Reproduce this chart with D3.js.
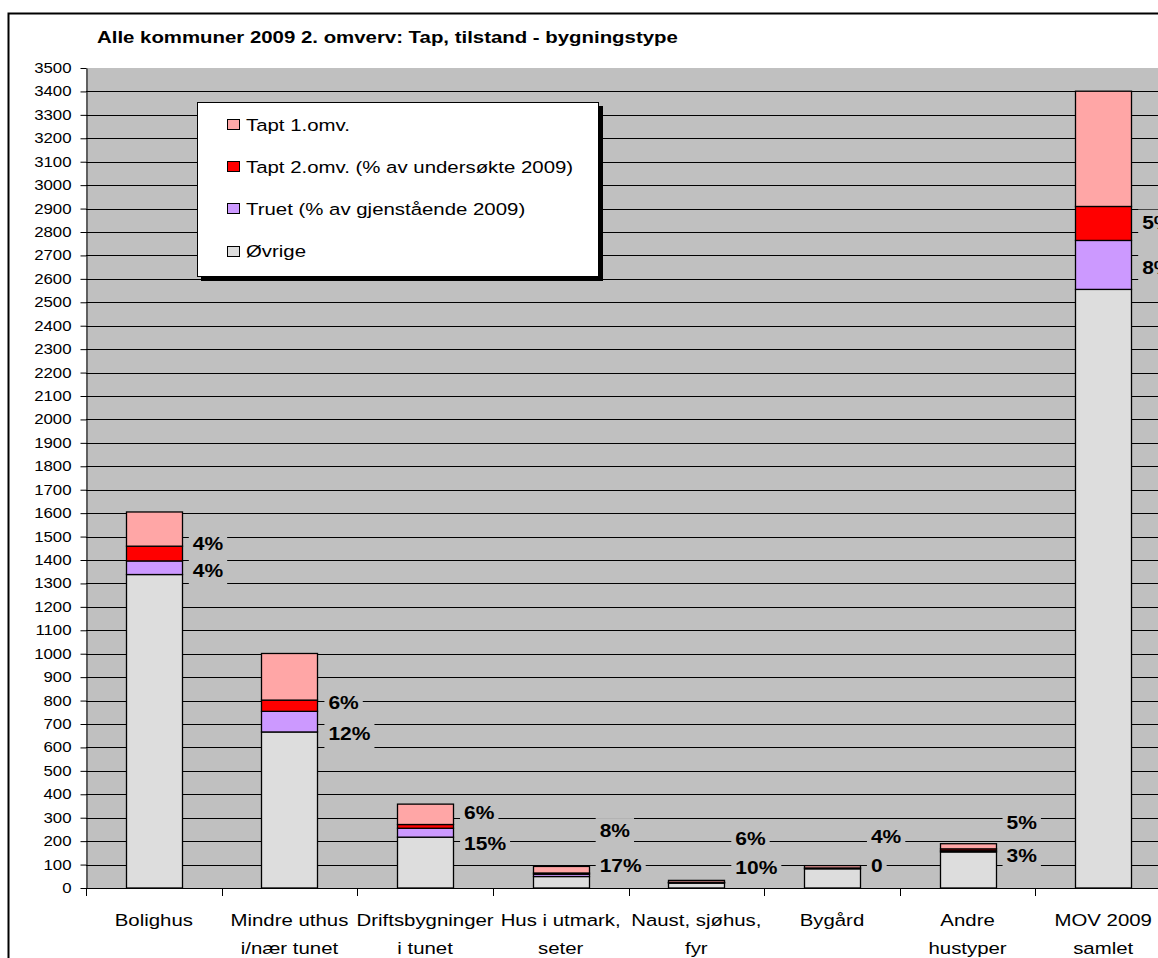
<!DOCTYPE html>
<html>
<head>
<meta charset="utf-8">
<script src="https://cdn.jsdelivr.net/npm/d3@7"></script>
<style>
  body { margin: 0; background: #fff; }
  svg { display: block; font-family: "Liberation Sans", Arial, sans-serif; }
</style>
</head>
<body>
<div class="chart"></div>
<script>
// chart values
var categories = ["Bolighus", "Mindre uthus i/nær tunet", "Driftsbygninger i tunet", "Hus i utmark, seter",
                  "Naust, sjøhus, fyr", "Bygård", "Andre hustyper", "MOV 2009 samlet"];
var categoryLines = [["Bolighus"], ["Mindre uthus", "i/nær tunet"], ["Driftsbygninger", "i tunet"],
                     ["Hus i utmark,", "seter"], ["Naust, sjøhus,", "fyr"], ["Bygård"],
                     ["Andre", "hustyper"], ["MOV 2009", "samlet"]];
var ovrige = [1338, 666, 217, 49, 21, 82, 154, 2555];
var truet  = [58, 88, 38, 10, 2, 0, 5, 209];
var tapt2  = [63, 48, 16, 5, 1.5, 3.5, 8, 145];
var tapt1  = [146, 199, 87, 28, 8, 10, 22, 492];

// percentage labels and the value they sit at
var pctTapt2 = ["4%", "6%", "6%", "8%", "6%", "4%", "5%", "5%"];
var pctTruet = ["4%", "12%", "15%", "17%", "10%", "0", "3%", "8%"];
var pctTapt2At = [1470, 790, 320, 243, 209, 218, 276, 2840];
var pctTruetAt = [1354, 659, 188, 94, 85, 94, 139, 2648];

var yTicks = d3.range(0, 3501, 100);

var seriesKeys = ["ovrige", "truet", "tapt2", "tapt1"];
var seriesNames = {
    tapt1: "Tapt 1.omv.",
    tapt2: "Tapt 2.omv. (% av undersøkte 2009)",
    truet: "Truet (% av gjenstående 2009)",
    ovrige: "Øvrige"
};
var colors = { ovrige: "#dddddd", truet: "#cc99ff", tapt2: "#ff0000", tapt1: "#ffa6a6" };

var SX = 1.2; // the reference text is drawn a bit wide

var svgWidth = 1158, svgHeight = 958;
var plot = { left: 86, top: 68, right: 1171, bottom: 888 };

var rows = categories.map(function(c, i) {
    return { cat: c, ovrige: ovrige[i], truet: truet[i], tapt2: tapt2[i], tapt1: tapt1[i] };
});

var svg = d3.select(".chart").append("svg")
    .attr("width", svgWidth)
    .attr("height", svgHeight);

function stretch(sel) {
    sel.each(function() {
        var t = d3.select(this);
        var x = +t.attr("x") || 0, y = +t.attr("y") || 0;
        t.attr("x", 0).attr("y", 0)
         .attr("transform", "translate(" + x + "," + y + ") scale(" + SX + ",1)");
    });
}

// outer chart border
svg.append("rect")
    .attr("x", 8.5).attr("y", 13.5)
    .attr("width", 1300).attr("height", 1100)
    .attr("fill", "#fff").attr("stroke", "#000").attr("stroke-width", 2);

var x = d3.scaleBand()
    .domain(categories)
    .range([plot.left, plot.right])
    .paddingInner(0.587)
    .paddingOuter(0.2935);

var y = d3.scaleLinear().domain([0, 3500]).range([plot.bottom, plot.top]);

// plot area
svg.append("rect")
    .attr("x", plot.left).attr("y", plot.top)
    .attr("width", plot.right - plot.left).attr("height", plot.bottom - plot.top)
    .attr("fill", "#c0c0c0");

// gridlines
svg.append("g").selectAll("line")
    .data(yTicks.filter(function(d) { return d > 0 && d < 3500; }))
    .join("line")
    .attr("x1", plot.left).attr("x2", plot.right)
    .attr("y1", function(d) { return Math.round(y(d)) + 0.5; })
    .attr("y2", function(d) { return Math.round(y(d)) + 0.5; })
    .attr("stroke", "#000").attr("stroke-width", 1);

// stacked bars
var stack = d3.stack().keys(seriesKeys);
var layers = stack(rows);

svg.append("g").selectAll("g")
    .data(layers)
    .join("g")
    .attr("fill", function(d) { return colors[d.key]; })
    .selectAll("rect")
    .data(function(d) { return d; })
    .join("rect")
    .attr("x", function(d) { return Math.round(x(d.data.cat)) + 0.5; })
    .attr("width", Math.round(x.bandwidth()))
    .attr("y", function(d) { return y(d[1]); })
    .attr("height", function(d) { return y(d[0]) - y(d[1]); })
    .attr("stroke", "#000").attr("stroke-width", 1.3);

// percentage labels with plot-coloured backing
var labels = [];
categories.forEach(function(c, i) {
    labels.push({ cat: c, text: pctTapt2[i], at: pctTapt2At[i] });
    labels.push({ cat: c, text: pctTruet[i], at: pctTruetAt[i] });
});

var labelG = svg.append("g").selectAll("g")
    .data(labels)
    .join("g");

labelG.append("rect")
    .attr("fill", "#c0c0c0");

labelG.append("text")
    .attr("x", function(d) { return x(d.cat) + x.bandwidth() + 11; })
    .attr("y", function(d) { return y(d.at); })
    .attr("dy", "0.35em")
    .attr("font-size", "17.5px")
    .attr("font-weight", "bold")
    .attr("fill", "#000")
    .text(function(d) { return d.text; })
    .call(stretch);

labelG.each(function(d) {
    var g = d3.select(this);
    var w = g.select("text").node().getComputedTextLength() * SX;
    var lx = x(d.cat) + x.bandwidth() + 11;
    g.select("rect")
        .attr("x", lx - 4).attr("y", y(d.at) - 13)
        .attr("width", w + 8).attr("height", 28);
});

// y axis
var yAxis = d3.axisLeft(y).tickValues(yTicks).tickFormat(d3.format("d"))
    .tickSize(6).tickSizeOuter(0).tickPadding(9);
var yAxisG = svg.append("g")
    .attr("transform", "translate(" + (plot.left + 0.5) + ",0)")
    .call(yAxis);
yAxisG.select(".domain").attr("stroke", "#000");
yAxisG.selectAll(".tick line").attr("stroke", "#000");
yAxisG.selectAll(".tick text")
    .attr("font-size", "14px")
    .attr("font-family", "Liberation Sans, Arial, sans-serif")
    .attr("fill", "#000")
    .call(stretch);

// x axis
svg.append("line")
    .attr("x1", plot.left).attr("x2", plot.right)
    .attr("y1", plot.bottom + 0.5).attr("y2", plot.bottom + 0.5)
    .attr("stroke", "#000");

var bounds = categories.map(function(c) { return x(c) - x.step() * x.paddingInner() / 2; });
bounds.push(plot.right);
svg.append("g").selectAll("line")
    .data(bounds)
    .join("line")
    .attr("x1", function(d) { return Math.round(d) + 0.5; })
    .attr("x2", function(d) { return Math.round(d) + 0.5; })
    .attr("y1", plot.bottom).attr("y2", plot.bottom + 8)
    .attr("stroke", "#000");

var xLab = svg.append("g").selectAll("g")
    .data(categories)
    .join("g");
xLab.selectAll("text")
    .data(function(d, i) {
        return categoryLines[i].map(function(t, j) { return { cat: d, t: t, j: j }; });
    })
    .join("text")
    .attr("x", function(d) { return x(d.cat) + x.bandwidth() / 2; })
    .attr("y", function(d) { return 926 + d.j * 28; })
    .attr("text-anchor", "middle")
    .attr("font-size", "17px")
    .attr("fill", "#000")
    .text(function(d) { return d.t; })
    .call(stretch);

// title
svg.append("text")
    .attr("x", 97).attr("y", 43)
    .attr("font-size", "17px")
    .attr("font-weight", "bold")
    .text("Alle kommuner 2009 2. omverv: Tap, tilstand - bygningstype")
    .call(stretch);

// legend
var legend = svg.append("g");
legend.append("rect")
    .attr("x", 201).attr("y", 106)
    .attr("width", 402).attr("height", 175)
    .attr("fill", "#000");
legend.append("rect")
    .attr("x", 197.5).attr("y", 102.5)
    .attr("width", 401).attr("height", 174)
    .attr("fill", "#fff").attr("stroke", "#000");

var legendKeys = ["tapt1", "tapt2", "truet", "ovrige"];
var legendY = d3.scalePoint().domain(legendKeys).range([125, 251.5]);

var item = legend.selectAll("g.item")
    .data(legendKeys)
    .join("g")
    .attr("class", "item");
item.append("rect")
    .attr("x", 227.5)
    .attr("y", function(d) { return Math.round(legendY(d)) - 5.5; })
    .attr("width", 12).attr("height", 10)
    .attr("fill", function(d) { return colors[d]; })
    .attr("stroke", "#000");
item.append("text")
    .attr("x", 246)
    .attr("y", function(d) { return legendY(d); })
    .attr("dy", "0.35em")
    .attr("font-size", "17px")
    .text(function(d) { return seriesNames[d]; })
    .call(stretch);
</script>
</body>
</html>
